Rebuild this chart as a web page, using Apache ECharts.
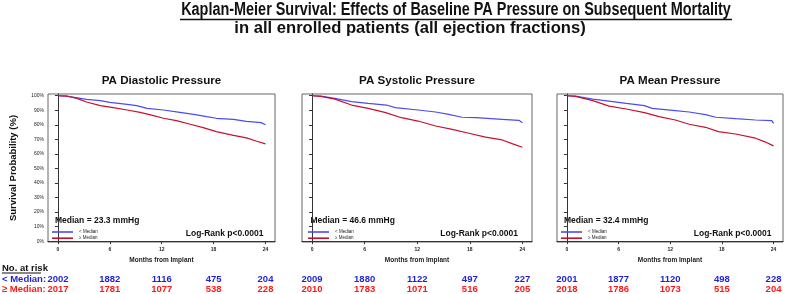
<!DOCTYPE html>
<html>
<head>
<meta charset="utf-8">
<script src="https://cdn.jsdelivr.net/npm/echarts@6/dist/echarts.min.js"></script>
<style>
  html, body { margin: 0; padding: 0; background: #fff; }
  #km { width: 786px; height: 294px; }
</style>
</head>
<body>
<div id="km"></div>
<script>
// values
const months = [0, 6, 12, 18, 24];
const pctTicks = [0, 10, 20, 30, 40, 50, 60, 70, 80, 90, 100];
const panelTitles = ['PA Diastolic Pressure', 'PA Systolic Pressure', 'PA Mean Pressure'];
const medianLabels = ['Median = 23.3 mmHg', 'Median = 46.6 mmHg', 'Median = 32.4 mmHg'];
const belowName = '< Median';
const aboveName = '≥ Median';

const diastolicBelow = [[0,100],[1,99.8],[3.3,97.5],[4.9,96.6],[6,95.4],[8,94],[9.1,93.2],[10.3,91.3],[12.2,90.2],[14.1,88.6],[15.7,87.2],[17.2,85.6],[18.3,84.5],[20.3,83.8],[21.8,82.4],[23.5,81.5],[24,80]];
const diastolicAbove = [[0,100],[1,99.8],[2.2,98.2],[3.3,95.7],[4.9,93.2],[6.4,91.8],[8,90.2],[9.5,88.6],[10.7,86.8],[12.2,84.5],[13.7,82.9],[15.3,80.4],[16.8,78.1],[18.3,75.3],[20.3,72.8],[21.8,71],[23,68.7],[24,66.9]];
const systolicBelow = [[0,100],[1,99.8],[2.6,98.2],[4.5,95.9],[6.4,94.7],[8.5,93.6],[9.5,91.8],[12.1,90.2],[14.1,88.8],[15.6,87.2],[17.1,85.2],[18.7,84.9],[21.7,83.8],[23.6,83.1],[24,81.5]];
const systolicAbove = [[0,100],[1,99.6],[2.6,97.7],[4.5,93.6],[6.4,91.3],[8.3,88.6],[10.2,84.9],[12.1,82.6],[14.1,79.2],[16,76.9],[17.9,74.2],[19.8,71.5],[21.7,69.6],[22.9,66.9],[24,64.6]];
const meanBelow = [[0,100],[1,99.8],[3,97.7],[4.9,96.3],[6.9,94.7],[9,93.2],[9.9,91.3],[12.6,89.7],[14.2,88.8],[16.1,87],[17.3,85.2],[19.6,84.2],[21.9,83.3],[23.8,82.9],[24,81]];
const meanAbove = [[0,100],[1,99.6],[3,96.6],[4.9,92.9],[6.9,90.9],[9,88.4],[10.7,85.6],[12.6,83.3],[14.2,80.4],[16.1,78.3],[17.6,75.3],[19.6,73.7],[21.9,70.8],[23,68.3],[24,65.5]];

const riskBelow = [[2002,1882,1116,475,204],[2009,1880,1122,497,227],[2001,1877,1120,498,228]];
const riskAbove = [[2017,1781,1077,538,228],[2010,1783,1071,516,205],[2018,1786,1073,515,204]];

const curves = [[diastolicBelow, diastolicAbove], [systolicBelow, systolicAbove], [meanBelow, meanAbove]];

const FONT = '"Liberation Sans", Arial, sans-serif';
const BLUE_LINE = '#4b4bf2';
const RED_LINE = '#c8102e';
const BLUE_TXT = '#1f1fd6';
const RED_TXT = '#ff1a1a';

const boxes = [{left: 48, width: 227}, {left: 302, width: 230}, {left: 557, width: 226}];
const TOP = 94, HEIGHT = 148.5;

const grid = [], xAxis = [], yAxis = [], series = [], legend = [], graphic = [];

boxes.forEach((b, i) => {
    grid.push({left: b.left, top: TOP, width: b.width, height: HEIGHT, show: true,
        borderColor: '#666', borderWidth: 1, containLabel: false});

    // survival axis
    xAxis.push({
        type: 'value', gridIndex: i, min: -1.15, max: 25.1,
        name: 'Months from Implant', nameLocation: 'middle', nameGap: 15,
        nameTextStyle: {fontSize: 6.5, fontFamily: FONT, color: '#222', fontWeight: 'bold'},
        axisLine: {lineStyle: {color: '#333', width: 1}},
        axisTick: {customValues: months, length: 3, lineStyle: {color: '#333'}},
        axisLabel: {customValues: months, fontSize: 5, fontFamily: FONT, color: '#222', fontWeight: 'bold', margin: 5},
        splitLine: {show: false}
    });
    // at-risk rows, drawn as label rows of extra axes on the same scale
    [[riskBelow[i], BLUE_TXT, 32], [riskAbove[i], RED_TXT, 42]].forEach(([vals, col, off]) => {
        xAxis.push({
            type: 'value', gridIndex: i, min: -1.15, max: 25.1, position: 'bottom', offset: off,
            axisLine: {show: false}, axisTick: {show: false}, splitLine: {show: false},
            axisLabel: {customValues: months, margin: 0, fontSize: 9.5, fontWeight: 'bold', fontFamily: FONT, color: col,
                formatter: v => String(vals[months.indexOf(v)])}
        });
    });

    yAxis.push({
        type: 'value', gridIndex: i, min: -0.6, max: 101.2,
        name: i === 0 ? 'Survival Probability (%)' : '', nameLocation: 'middle', nameRotate: 90, nameGap: 30,
        nameTextStyle: {fontSize: 9.5, fontWeight: 'bold', fontFamily: FONT, color: '#111'},
        axisLine: {show: true, lineStyle: {color: '#333', width: 1}},
        axisTick: {show: true, customValues: pctTicks, length: 3, lineStyle: {color: '#333'}},
        axisLabel: {show: i === 0, customValues: pctTicks, formatter: '{value}%', fontSize: 5, fontFamily: FONT, color: '#222', margin: 4},
        splitLine: {show: false}
    });

    const xBase = i * 3;
    series.push({name: belowName, type: 'line', xAxisIndex: xBase, yAxisIndex: i, data: curves[i][0],
        showSymbol: false, color: BLUE_LINE, lineStyle: {width: 1.2}, animation: false});
    series.push({name: aboveName, type: 'line', xAxisIndex: xBase, yAxisIndex: i, data: curves[i][1],
        showSymbol: false, color: RED_LINE, lineStyle: {width: 1.2}, animation: false});

    legend.push({left: b.left + 4 + (i === 1 ? 2 : 0), top: 229.5, orient: 'vertical', padding: 0,
        itemWidth: 21, itemHeight: 1.6, itemGap: 1.2, icon: 'rect', selectedMode: false,
        data: [belowName, aboveName],
        textStyle: {fontSize: 4.5, lineHeight: 5, fontFamily: FONT, color: '#222', padding: [0, 0, 0, 1]}});

    const cx = b.left + b.width / 2;
    graphic.push({type: 'text', x: cx, y: 81, style: {text: panelTitles[i], align: 'center', verticalAlign: 'middle',
        fontSize: 11.6, fontWeight: 'bold', fontFamily: FONT, fill: '#111'}});
    graphic.push({type: 'text', x: b.left + 7 + (i === 1 ? 1.5 : 0), y: 221, style: {text: medianLabels[i], align: 'left', verticalAlign: 'middle',
        fontSize: 8.5, fontWeight: 'bold', fontFamily: FONT, fill: '#111'}});
    graphic.push({type: 'text', x: b.left + b.width - (i === 1 ? 14 : 11.5), y: 233.5, style: {text: 'Log-Rank p<0.0001', align: 'right', verticalAlign: 'middle',
        fontSize: 8.5, fontWeight: 'bold', fontFamily: FONT, fill: '#111'}});
});

// headings and row labels (first heading line is set in a condensed face)
graphic.push({type: 'text', x: 456, y: 10.5, scaleX: 0.82, style: {text: 'Kaplan-Meier Survival: Effects of Baseline PA Pressure on Subsequent Mortality',
    align: 'center', verticalAlign: 'middle', fontSize: 17.6, fontWeight: 'bold', fontFamily: FONT, fill: '#111'}});
graphic.push({type: 'line', shape: {x1: 180, y1: 19.5, x2: 732, y2: 19.5}, style: {stroke: '#111', lineWidth: 1.3}});
graphic.push({type: 'text', x: 410, y: 28.5, style: {text: 'in all enrolled patients (all ejection fractions)',
    align: 'center', verticalAlign: 'middle', fontSize: 16.6, fontWeight: 'bold', fontFamily: FONT, fill: '#111'}});

graphic.push({type: 'text', x: 2, y: 268, style: {text: 'No. at risk', verticalAlign: 'middle', fontSize: 9.5, fontWeight: 'bold', fontFamily: FONT, fill: '#111'}});
graphic.push({type: 'line', shape: {x1: 2, y1: 273, x2: 41, y2: 273}, style: {stroke: '#111', lineWidth: 1}});
graphic.push({type: 'text', x: 2, y: 279, style: {text: '< Median:', verticalAlign: 'middle', fontSize: 9.5, fontWeight: 'bold', fontFamily: FONT, fill: BLUE_TXT}});
graphic.push({type: 'text', x: 2, y: 289, style: {text: '≥ Median:', verticalAlign: 'middle', fontSize: 9.5, fontWeight: 'bold', fontFamily: FONT, fill: RED_TXT}});

echarts.init(document.getElementById('km')).setOption({
    backgroundColor: '#fff',
    animation: false,
    grid: grid,
    xAxis: xAxis,
    yAxis: yAxis,
    legend: legend,
    series: series,
    graphic: graphic
});
</script>
</body>
</html>
